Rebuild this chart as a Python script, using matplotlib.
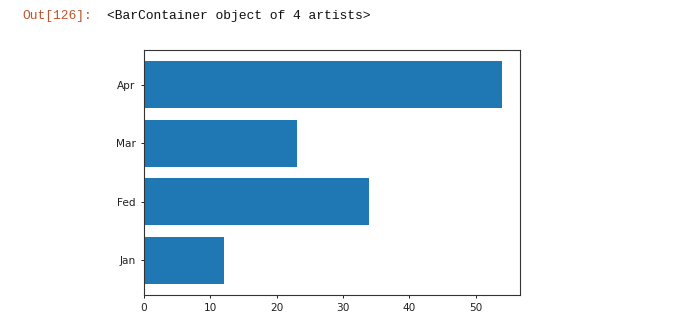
import matplotlib.pyplot as plt

months = ['Jan', 'Fed', 'Mar', 'Apr']
counts = [12, 34, 23, 54]

W, H = 693, 326
fig = plt.figure(figsize=(W / 100, H / 100), dpi=100)

# Jupyter output prompt line
fig.text(22 / W, 1 - 16 / H, 'Out[126]:', color='#c2532c',
         family='Liberation Mono', fontsize=9.4, va='center', ha='left')
fig.text(107 / W, 1 - 16 / H, '<BarContainer object of 4 artists>', color='#111111',
         family='Liberation Mono', fontsize=9.4, va='center', ha='left')

ax = fig.add_axes([144 / W, 1 - 295 / H, (520 - 144) / W, (295 - 50) / H])
ax.barh(months, counts, color='#1f77b4')

ax.tick_params(labelsize=7.6, length=2.5, width=0.7, colors='#222222')
for sp in ax.spines.values():
    sp.set_linewidth(0.8)
    sp.set_color('#333333')

fig.savefig('out.png', dpi=100)
